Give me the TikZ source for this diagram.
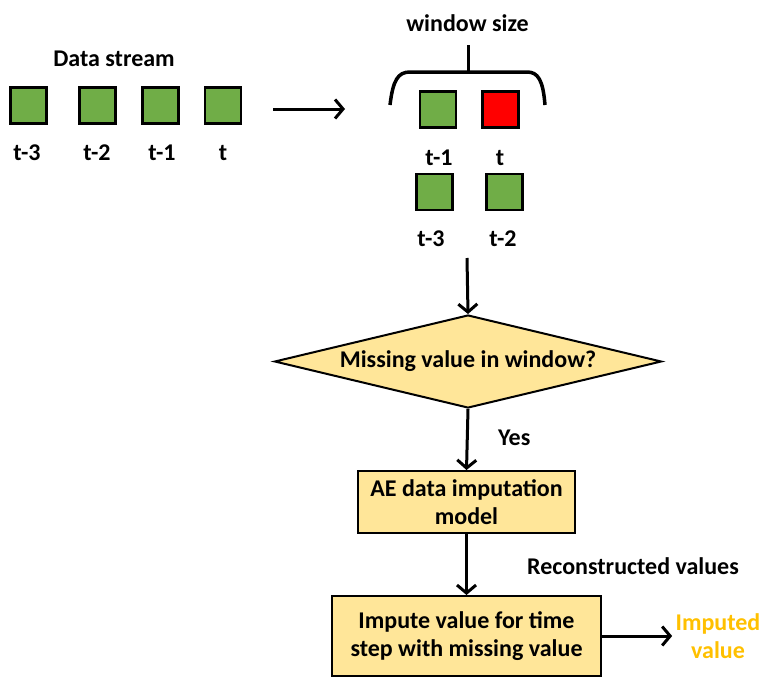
\documentclass[tikz,border=0pt]{standalone}
\usepackage{fontspec}
\setmainfont{Carlito}
\usepackage{xcolor}
\usetikzlibrary{arrows.meta,shapes.geometric}

\definecolor{cellgreen}{HTML}{70AD47}
\definecolor{cellred}{HTML}{FF0000}
\definecolor{boxfill}{HTML}{FFE699}
\definecolor{gold}{HTML}{FFC000}

\begin{document}
\begin{tikzpicture}[x=1pt,y=-1pt,
    every node/.style={font=\bfseries\fontsize{24}{28.5}\selectfont},
    cell/.style={draw=black, line width=2.5pt, fill=cellgreen, minimum size=36pt, inner sep=0pt},
    proc/.style={draw=black, line width=2pt, fill=boxfill, align=center, inner sep=0pt},
    flow/.style={line width=3pt, -{Straight Barb[length=8pt,width=19pt,line width=3pt]}}]
    \useasboundingbox (0,0) rectangle (779,688);

    \node (DS) at (114,59) {Data stream};
    \node[cell] (S1) at (28.5,105.5) {};
    \node[cell] (S2) at (97.5,105.5) {};
    \node[cell] (S3) at (160.5,105.5) {};
    \node[cell] (S4) at (223,105.5) {};
    \node (L1) at (27,153) {t-3};
    \node (L2) at (97,153) {t-2};
    \node (L3) at (162,153) {t-1};
    \node (L4) at (223,153) {t};

    \coordinate (P1) at (273,109);
    \coordinate (P2) at (345,109);
    \draw[flow] (P1) -- (P2);

    \node (WS) at (467.5,23) {window size};
    \draw[line width=3pt] (468,45) -- (468,72);
    \draw[line width=3.5pt] (390,105) .. controls (393,80) and (398,72) .. (410,72) -- (527,72)
        .. controls (538,72) and (543,80) .. (545,105);

    \node[cell] (W1) at (438,109.5) {};
    \node[cell, fill=cellred] (W2) at (500.5,109.5) {};
    \node (M1) at (439,158) {t-1};
    \node (M2) at (500,158) {t};
    \node[cell] (W3) at (434.5,192) {};
    \node[cell] (W4) at (504.5,192) {};
    \node (M3) at (431,239) {t-3};
    \node (M4) at (503,239) {t-2};

    \coordinate (P3) at (467,258);
    \node[diamond, draw=black, line width=2pt, fill=boxfill, aspect=4.16, inner sep=0pt,
        minimum width=387pt, minimum height=93pt] (D) at (468,361.5) {Missing value in window?};
    \draw[flow] (P3) -- (D.north);

    \node[proc, minimum width=217pt, minimum height=62pt] (AE) at (466.5,502) {AE data imputation\\model};
    \draw[flow] (D.south) -- (AE.north) node[pos=0.48, right=26pt] {Yes};

    \node[proc, minimum width=269pt, minimum height=80pt] (IM) at (466.5,636) {Impute value for time\\step with missing value};
    \draw[flow] (AE.south) -- (IM.north);
    \node (RV) at (633,566) {Reconstructed values};

    \node[text=gold, align=center] (OUT) at (718,636) {Imputed\\value};
    \draw[flow] (IM.east) -- (OUT.west);
\end{tikzpicture}
\end{document}
